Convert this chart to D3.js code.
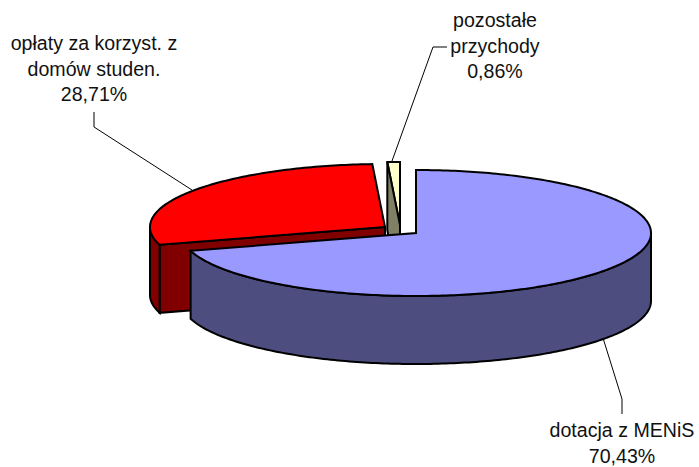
<!DOCTYPE html>
<html><head><meta charset="utf-8">
<script src="https://cdn.jsdelivr.net/npm/d3@7/dist/d3.min.js"></script>
<style>html,body{margin:0;background:#fff}svg{display:block}text{font-family:"Liberation Sans",Arial,sans-serif;font-size:19.6px;fill:#111}</style>
</head><body><script>
const categories = ["dotacja z MENiS","opłaty za korzyst. z domów studen.","pozostałe przychody"];
const shares = [70.43,28.71,0.86];
const labelLines = [["dotacja z MENiS","70,43%"],["opłaty za korzyst. z","domów studen.","28,71%"],["pozostałe","przychody","0,86%"]];
const topColors = ["#9999FF","#FF0000","#FFFFCC"];
const wallColors = ["#4D4D80","#800000","#808066"];
const centers = [[416,233],[385,227],[400,225]];
const labelAnchors = [[622,437],[94,50],[495,27]];
const leaders = [[[603,338],[622,399],[622,414]],[[192,190],[94,127],[94,112]],[[392,161],[433,47],[447,47]]];
const rx=235, ry=63, depth=68;

const W=699,H=467;
const svg=d3.select("body").append("svg").attr("width",W).attr("height",H);
const arcs=d3.pie().sort(null)(shares);
const pt=(i,a,d=0)=>[centers[i][0]+rx*Math.sin(a),centers[i][1]-ry*Math.cos(a)+d];
const samples=(a0,a1)=>{const n=Math.max(2,Math.ceil((a1-a0)*60));return d3.range(n+1).map(k=>a0+(a1-a0)*k/n);};
const line=d3.line();
const closed=p=>line(p)+"Z";
const shape=(p,fill)=>svg.append("path").attr("d",closed(p)).attr("fill",fill).attr("stroke","#000").attr("stroke-width",2).attr("stroke-linejoin","miter");
[2,1,0].forEach(i=>{
  const s=arcs[i], a0=s.startAngle, a1=s.endAngle, c=centers[i], cd=[c[0],c[1]+depth];
  if(i===2){
    shape([c,...samples(a0,a1).map(a=>pt(i,a))],topColors[i]);
    shape([pt(i,a0),c,cd,pt(i,a0,depth)],wallColors[i]);
  } else {
    shape([pt(i,a0),c,cd,pt(i,a0,depth)],wallColors[i]);
    const f0=Math.max(a0,Math.PI/2), f1=Math.min(a1,3*Math.PI/2);
    if(f1>f0){const sa=samples(f0,f1);shape([...sa.map(a=>pt(i,a)),...sa.slice().reverse().map(a=>pt(i,a,depth))],wallColors[i]);}
    shape([c,...samples(a0,a1).map(a=>pt(i,a))],topColors[i]);
  }
});
leaders.forEach(l=>svg.append("path").attr("d",line(l)).attr("fill","none").attr("stroke","#000").attr("stroke-width",1));
labelLines.forEach((ls,i)=>{
  const t=svg.append("text").attr("text-anchor","middle");
  ls.forEach((s,k)=>t.append("tspan").attr("x",labelAnchors[i][0]).attr("y",labelAnchors[i][1]+k*25.7).text(s));
});
</script></body></html>
